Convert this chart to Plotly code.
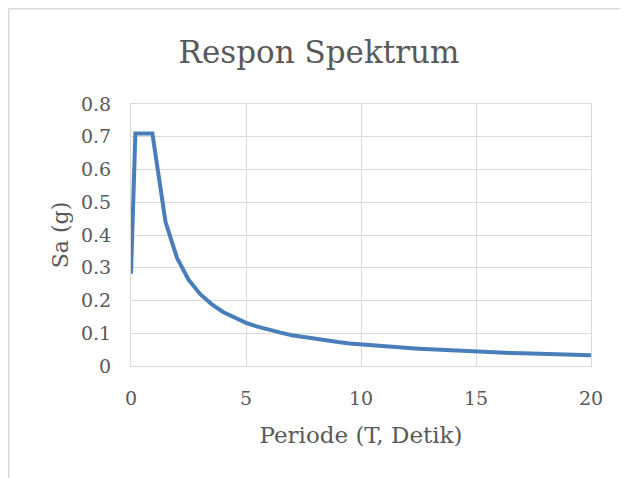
import plotly.graph_objects as go

periode = [0, 0.19, 0.93, 1.5, 2, 2.5, 3, 3.5, 4, 4.5, 5, 5.5, 6, 6.5, 7, 7.5, 8, 8.5, 9, 9.5,
           10, 10.5, 11, 11.5, 12, 12.5, 13, 13.5, 14, 14.5, 15, 15.5, 16, 16.5, 17, 17.5,
           18, 18.5, 19, 19.5, 20]
sa = [0.282, 0.71, 0.71, 0.44, 0.33, 0.264, 0.22, 0.189, 0.165, 0.147, 0.132, 0.12, 0.11,
      0.102, 0.094, 0.088, 0.083, 0.078, 0.073, 0.069, 0.066, 0.063, 0.06, 0.057, 0.055,
      0.053, 0.051, 0.049, 0.047, 0.046, 0.044, 0.043, 0.041, 0.04, 0.039, 0.038, 0.037,
      0.036, 0.035, 0.034, 0.033]
x_ticks = [0, 5, 10, 15, 20]
y_ticks = [0, 0.1, 0.2, 0.3, 0.4, 0.5, 0.6, 0.7, 0.8]
y_tick_labels = ["0", "0.1", "0.2", "0.3", "0.4", "0.5", "0.6", "0.7", "0.8"]

FONT = "DejaVu Serif"
TXT = "#595959"
GRID = "#d9d9d9"

fig = go.Figure()
fig.add_trace(go.Scatter(x=periode, y=sa, mode="lines",
                         line=dict(color="#4a7ebb", width=4), showlegend=False))

W, H = 628, 478
# page is offset by 8px (body margin); plot area on page: x 131..591, y 104..366
L, R, T, B = 123, 45, 96, 120
pw, ph = W - L - R, H - T - B

def px(xp):
    return (xp - L) / pw

def py(yp):
    return (H - B - yp) / ph

fig.update_layout(
    width=W, height=H,
    margin=dict(l=L, r=R, t=T, b=B),
    paper_bgcolor="white", plot_bgcolor="white",
    font=dict(family=FONT, color=TXT),
    title=dict(text="Respon Spektrum", x=311 / W, xanchor="center", xref="container",
               y=1 - 44 / H, yanchor="middle", yref="container",
               font=dict(family=FONT, size=31, color=TXT)),
    xaxis=dict(range=[0, 20], tickvals=x_ticks, showgrid=True, gridcolor=GRID, gridwidth=1,
               showline=True, linecolor=GRID, linewidth=1, mirror=True, zeroline=False,
               tickfont=dict(size=19, color=TXT), ticks="", ticklabelstandoff=15,
               title=dict(text="Periode (T, Detik)", font=dict(size=23, color=TXT), standoff=19),
               fixedrange=True),
    yaxis=dict(range=[0, 0.8], tickvals=y_ticks, ticktext=y_tick_labels, showgrid=True,
               gridcolor=GRID, gridwidth=1, showline=True, linecolor=GRID, linewidth=1,
               mirror=True, zeroline=False, tickfont=dict(size=19, color=TXT), ticks="",
               ticklabelstandoff=15,
               title=dict(text="Sa (g)", font=dict(size=22, color=TXT), standoff=6),
               fixedrange=True),
    shapes=[
        dict(type="line", xref="paper", yref="paper", x0=px(0.75), x1=px(0.75),
             y0=py(0.75), y1=py(H), line=dict(color=GRID, width=1.5)),
        dict(type="line", xref="paper", yref="paper", x0=px(0.75), x1=px(W),
             y0=py(0.75), y1=py(0.75), line=dict(color=GRID, width=1.5)),
    ],
)

fig.write_html("out.html")
